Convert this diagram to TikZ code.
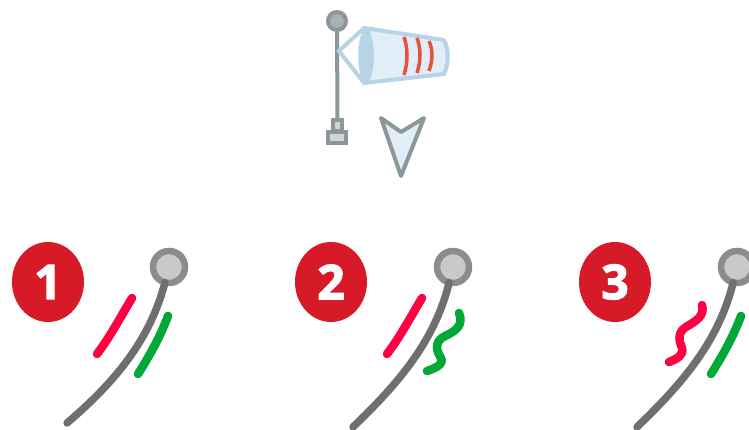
\documentclass[tikz,border=0pt]{standalone}
\usepackage{fontspec}
\setmainfont{Open Sans}
\newfontfamily\badgefont{Open Sans}[BoldFeatures={FakeBold=2.5}]
\usepackage{xcolor}
\usetikzlibrary{shapes.geometric}
\definecolor{badgered}{HTML}{D71A28}
\definecolor{trackgray}{HTML}{6F6F6F}
\definecolor{ringgray}{HTML}{8C8C8C}
\definecolor{hubgray}{HTML}{C9C9C9}
\definecolor{linered}{HTML}{FF0040}
\definecolor{linegreen}{HTML}{00A838}
\definecolor{polegray}{HTML}{8B9799}
\definecolor{sockblue}{HTML}{B7D3E6}
\definecolor{sockfill}{HTML}{E2EEF7}
\definecolor{stripered}{HTML}{E8503A}

\begin{document}
\begin{tikzpicture}[x=1pt, y=-1pt,
    badge/.style={ellipse, fill=badgered, text=white, minimum width=72pt, minimum height=80pt, inner sep=0pt, outer sep=0pt, font=\fontsize{48}{48}\badgefont\bfseries},
    pivot/.style={circle, draw=ringgray, fill=hubgray, line width=6.5pt, minimum size=32pt, inner sep=0pt, outer sep=0pt},
    track/.style={draw=trackgray, line width=7.5pt, line cap=round},
    redline/.style={draw=linered, line width=8.5pt, line cap=round},
    greenline/.style={draw=linegreen, line width=8.5pt, line cap=round},
    polepart/.style={draw=polegray, line width=4pt},
    stripe/.style={draw=stripered, line width=3.5pt}]
  \useasboundingbox (0,0) rectangle (749,430);

  % windsock
  \node[circle, polepart, fill=polegray!75, minimum size=18pt, inner sep=0pt] (ball) at (337,21) {};
  \node[polepart, fill=polegray!40, minimum width=9pt, minimum height=11pt, inner sep=0pt] (foot) at (337.5,126) {};
  \node[polepart, fill=polegray!40, minimum width=18pt, minimum height=11pt, inner sep=0pt] (base) at (337,138) {};
  \draw[polepart] (ball) -- (foot);
  \coordinate (hook) at (339,51);
  \coordinate (mtop) at (364,28);
  \coordinate (mbot) at (364,83);
  \draw[draw=sockblue, line width=4pt, fill=white] (mtop) -- (hook) -- (mbot);
  \draw[draw=sockblue, line width=4pt, line join=round, fill=sockfill] (mtop) -- (444,40) .. controls (449,50) and (449,64) .. (444,74) -- (mbot) -- cycle;
  \node[ellipse, draw=sockblue, fill=sockblue, minimum width=15pt, minimum height=54pt, inner sep=0pt] (mouth) at (366,55.5) {};
  \draw[stripe] (404,37) .. controls (408,48) and (408,62) .. (404,75);
  \draw[stripe] (417,38) .. controls (421,49) and (421,61) .. (417,73);
  \draw[stripe] (429,41) .. controls (433,50) and (433,60) .. (429,71);

  % wind direction
  \draw[draw=polegray, fill=sockfill, line width=4pt, line join=round] (381,118) -- (401,132) -- (424,118) -- (401,176) -- cycle;

  % case 1
  \node[badge] (b1) at (48,282) {1};
  \node[pivot] (p1) at (169,267) {};
  \coordinate (t1) at (67,423);
  \draw[track] (t1) .. controls (115,382) and (150,340) .. (p1);
  \draw[redline] (132,298) .. controls (120,318) and (110,337) .. (97,354);
  \draw[greenline] (168,316) .. controls (160,337) and (150,355) .. (138,374);

  % case 2
  \node[badge] (b2) at (331,282) {2};
  \node[pivot] (p2) at (453,267) {};
  \coordinate (t2) at (353,427);
  \draw[track] (t2) .. controls (400,382) and (435,340) .. (p2);
  \draw[redline] (422,298) .. controls (410,318) and (400,337) .. (387,354);
  \draw[greenline] (459,313) .. controls (464,325) and (456,331) .. (445,336) .. controls (433,342) and (437,352) .. (441,358) .. controls (444,364) and (436,368) .. (427,371);

  % case 3
  \node[badge] (b3) at (615,282) {3};
  \node[pivot] (p3) at (737,267) {};
  \coordinate (t3) at (637,427);
  \draw[track] (t3) .. controls (684,382) and (719,340) .. (p3);
  \draw[redline] (702,305) .. controls (705,316) and (696,321) .. (686,327) .. controls (676,333) and (680,343) .. (682,348) .. controls (684,355) and (677,359) .. (669,362);
  \draw[greenline] (741,316) .. controls (733,337) and (723,355) .. (711,374);
\end{tikzpicture}
\end{document}
